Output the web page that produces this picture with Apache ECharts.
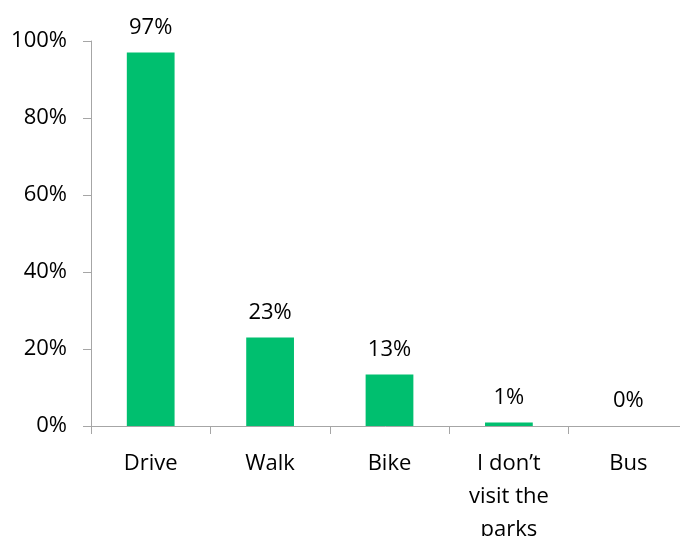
<!DOCTYPE html>
<html>
<head>
<meta charset="utf-8">
<script src="https://cdn.jsdelivr.net/npm/echarts@6/dist/echarts.min.js"></script>
<style>html,body{margin:0;padding:0;background:#fff;}#c{width:680px;height:536px;}</style>
</head>
<body>
<div id="c"></div>
<script>
var categories = ["Drive", "Walk", "Bike", "I don\u2019t\nvisit the\nparks", "Bus"];
var values = [97, 23, 13.4, 0.9, 0];
var yTicks = [0, 20, 40, 60, 80, 100];

var chart = echarts.init(document.getElementById('c'), null, {renderer: 'canvas'});
var font = "'Open Sans', sans-serif";
chart.setOption({
  animation: false,
  grid: {left: 91, right: -8, top: 41, bottom: 110, containLabel: false, outerBoundsMode: 'none'},
  xAxis: {
    type: 'category',
    data: categories,
    axisLine: {show: true, lineStyle: {color: '#a6a6a6', width: 1}},
    axisTick: {show: true, alignWithLabel: false, length: 8, lineStyle: {color: '#a6a6a6'}},
    axisLabel: {color: '#000', fontFamily: font, fontSize: 22, margin: 21, lineHeight: 33, interval: 0}
  },
  yAxis: {
    type: 'value',
    min: 0, max: 100, interval: 20,
    axisLine: {show: true, lineStyle: {color: '#a6a6a6', width: 1}},
    axisTick: {show: true, length: 8, inside: false, lineStyle: {color: '#a6a6a6'}},
    splitLine: {show: false},
    axisLabel: {color: '#000', fontFamily: font, fontSize: 22, margin: 24,
      formatter: function (v) { return yTicks.indexOf(v) >= 0 ? v + '%' : ''; }}
  },
  series: [{
    type: 'bar',
    data: values,
    barWidth: '40%',
    itemStyle: {color: '#00bf6f'},
    label: {show: true, position: 'top', distance: 14, color: '#000', fontFamily: font, fontSize: 22,
      formatter: function (p) { return Math.round(p.value) + '%'; }}
  }]
});
</script>
</body>
</html>
